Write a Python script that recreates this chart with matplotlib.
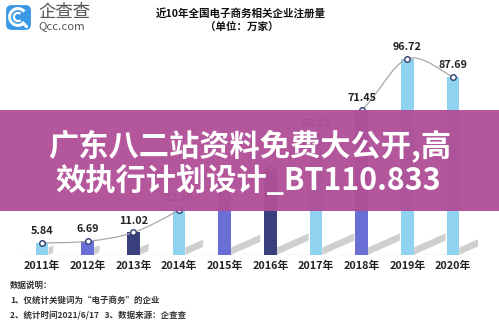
import numpy as np
import matplotlib
matplotlib.use("Agg")
import matplotlib.pyplot as plt
from matplotlib.patches import Rectangle, FancyBboxPatch, Polygon, Arc, PathPatch
from matplotlib.path import Path

plt.rcParams['font.family'] = ['Noto Sans CJK SC', 'DejaVu Sans']

# data (2015/2016 are hidden behind the banner -> estimated)
years = ['2011年', '2012年', '2013年', '2014年', '2015年',
         '2016年', '2017年', '2018年', '2019年', '2020年']
values = [5.84, 6.69, 11.02, 22.10, 36.4, 42.5, 58.82, 71.45, 96.72, 87.69]
shown_labels = ['5.84', '6.69', '11.02', '22.10', '', '', '58.82', '71.45', '96.72', '87.69']
bar_colors = ['#8fd3f0', '#6a6fd6', '#3a3f7e', '#8fd3f0', '#6a6fd6',
              '#3a3f7e', '#8fd3f0', '#6a6fd6', '#8fd3f0', '#8fd3f0']

title = '近10年全国电子商务相关企业注册量'
subtitle = '（单位：万家）'
notes = ['数据说明：', '1、仅统计关键词为“电子商务”的企业', '2、统计时间2021/6/17   3、数据来源：企查查']
banner_lines = ['广东八二站资料免费大公开,高', '效执行计划设计_BT110.833']

W, H = 499, 323
fig = plt.figure(figsize=(W / 100, H / 100), dpi=100)
fig.patch.set_facecolor('white')

# main axes placed in pixel terms
ax = fig.add_axes([22 / W, 68.2 / H, 456 / W, 214.8 / H])
ax.set_xlim(-0.44, 9.55)
ax.set_ylim(0, 106)
for s in ax.spines.values():
    s.set_visible(False)
ax.set_yticks([])
ax.axhline(0, color='#dddddd', lw=1.0, zorder=1)

x = np.arange(len(years))
bw = 0.28

# soft diagonal shadows
for xi, h in zip(x, values):
    xr = xi + bw / 2
    L = min(h, 40) / 40 * 0.7
    rise = L * 10
    th = min(h, 3.6)
    shadow = Polygon([(xr, 0), (xr + L, rise), (xr + L, rise + th), (xr, th)],
                     closed=True, facecolor='#c4c4c4', edgecolor='none', alpha=0.8, zorder=1)
    ax.add_patch(shadow)

ax.bar(x, values, width=bw, color=bar_colors, zorder=2)

# smooth connecting line as cubic bezier segments
pts = np.column_stack([x, values]).astype(float)
verts = [tuple(pts[0])]
codes = [Path.MOVETO]
for i in range(len(pts) - 1):
    p0 = pts[i - 1] if i > 0 else pts[i]
    p1, p2 = pts[i], pts[i + 1]
    p3 = pts[i + 2] if i + 2 < len(pts) else pts[i + 1]
    c1 = p1 + (p2 - p0) / 6
    c2 = p2 - (p3 - p1) / 6
    verts += [tuple(c1), tuple(c2), tuple(p2)]
    codes += [Path.CURVE4] * 3
ax.add_patch(PathPatch(Path(verts, codes), facecolor='none', edgecolor='#a8a8a8', lw=0.9, zorder=3))
ax.plot(x, values, 'o', ms=4, mfc='white', mec='#2f3c6e', mew=1.0, zorder=4)

for xi, v, lab in zip(x, values, shown_labels):
    if lab:
        ax.annotate(lab, (xi, v), xytext=(0, 5), textcoords='offset points',
                    ha='center', va='bottom', fontsize=7.8, fontweight='bold', color='#222222')

ax.set_xticks(x)
ax.set_xticklabels(years, fontsize=7.8, fontweight='bold', color='#222222')
ax.tick_params(axis='x', length=0, pad=4)

# titles
fig.text(241 / W, 1 - 13 / H, title, ha='center', va='center', fontsize=7.6, fontweight='bold', color='#111111')
fig.text(242 / W, 1 - 27 / H, subtitle, ha='center', va='center', fontsize=7.6, fontweight='bold', color='#111111')

# notes
for i, t in enumerate(notes):
    fig.text(10 / W, 1 - (285 + 15 * i) / H, t, ha='left', va='center', fontsize=6.1,
             fontweight='bold', color='#333333')

# logo
lax = fig.add_axes([5 / W, 1 - 31 / H, 27 / W, 27 / H])
lax.set_xlim(0, 1)
lax.set_ylim(0, 1)
lax.axis('off')
lax.add_patch(FancyBboxPatch((0.04, 0.04), 0.92, 0.92, boxstyle='round,pad=0,rounding_size=0.2',
                             facecolor='#3a98e6', edgecolor='none'))
lax.add_patch(Arc((0.48, 0.52), 0.62, 0.62, theta1=40, theta2=320, color='white', lw=2.2))
lax.add_patch(Arc((0.48, 0.52), 0.3, 0.3, theta1=50, theta2=310, color='white', lw=1.6))
lax.plot([0.66, 0.8], [0.3, 0.16], color='white', lw=2.2, solid_capstyle='round')
fig.text(38 / W, 1 - 12 / H, '企查查', ha='left', va='center', fontsize=12.5, color='#555555')
fig.text(38 / W, 1 - 26 / H, 'Qcc.com', ha='left', va='center', fontsize=8.2, color='#555555')

# banner overlay
fig.patches.append(Rectangle((0, 1 - 211 / H), 1, 101 / H, transform=fig.transFigure,
                             facecolor='#b04f97', edgecolor='none', alpha=0.96, zorder=5))
fig.text(250 / W, 1 - 147 / H, banner_lines[0], ha='center', va='center', fontsize=21.8,
         fontweight='bold', color='white', zorder=6)
fig.text(248 / W, 1 - 181 / H, banner_lines[1], ha='center', va='center', fontsize=21.8,
         fontweight='bold', color='white', zorder=6)

fig.savefig('out.png', dpi=100)
